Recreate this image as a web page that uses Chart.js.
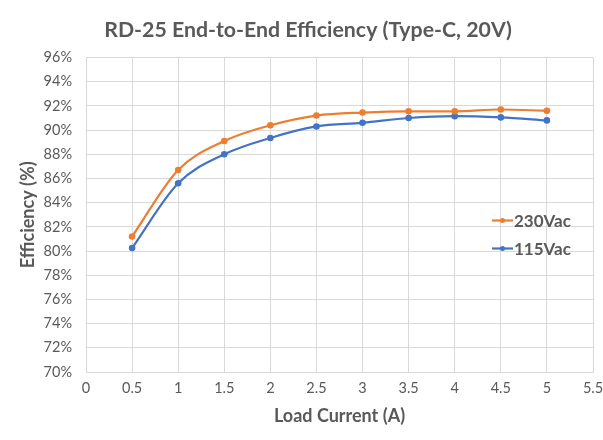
<!DOCTYPE html>
<html><head><meta charset="utf-8">
<script src="https://cdn.jsdelivr.net/npm/chart.js@4/dist/chart.umd.min.js"></script>
<style>html,body{margin:0;padding:0;background:#fff}#wrap{width:603px;height:440px}</style>
</head><body><div id="wrap"><canvas id="c" width="603" height="440"></canvas></div>
<script>
const loadCurrent = [0.5, 1, 1.5, 2, 2.5, 3, 3.5, 4, 4.5, 5];
const eff230 = [81.2, 86.7, 89.1, 90.4, 91.2, 91.45, 91.55, 91.55, 91.7, 91.6];
const eff115 = [80.25, 85.6, 88.0, 89.35, 90.3, 90.6, 91.0, 91.15, 91.05, 90.8];
const seriesNames = ['230Vac', '115Vac'];
const titleText = 'RD-25 End-to-End Efficiency (Type-C, 20V)';
const xTitle = 'Load Current (A)';
const yTitle = 'Efficiency (%)';

const FONT = 'Lato, "Open Sans", sans-serif';
const GREY = '#595959';
const colors = ['#ED7D31', '#4472C4'];

const titlePlugin = {
  id: 'offTitle',
  afterDraw(chart) {
    const ctx = chart.ctx;
    ctx.save();
    ctx.fillStyle = GREY; ctx.font = 'bold 21.3px ' + FONT;
    ctx.textAlign = 'center'; ctx.textBaseline = 'middle';
    ctx.fillText(titleText, 308, 30);
    ctx.restore();
  }
};

const legendPlugin = {
  id: 'inLegend',
  afterDraw(chart) {
    const ctx = chart.ctx, a = chart.chartArea;
    ctx.save();
    chart.data.datasets.forEach((ds, i) => {
      const y = a.top + 163 + i * 28;
      const x0 = a.left + 406;
      ctx.strokeStyle = ds.borderColor; ctx.lineWidth = 2.2;
      ctx.beginPath(); ctx.moveTo(x0, y); ctx.lineTo(x0 + 21, y); ctx.stroke();
      ctx.fillStyle = ds.borderColor;
      ctx.beginPath(); ctx.arc(x0 + 10.5, y, 2.5, 0, Math.PI * 2); ctx.fill();
      ctx.fillStyle = GREY; ctx.font = 'bold 17px ' + FONT;
      ctx.textBaseline = 'middle'; ctx.textAlign = 'left';
      ctx.fillText(ds.label, x0 + 22, y + 1);
    });
    ctx.restore();
  }
};

new Chart(document.getElementById('c'), {
  type: 'line',
  data: {
    datasets: [
      { label: seriesNames[0], data: loadCurrent.map((x, i) => ({x, y: eff230[i]})), borderColor: colors[0], backgroundColor: colors[0] },
      { label: seriesNames[1], data: loadCurrent.map((x, i) => ({x, y: eff115[i]})), borderColor: colors[1], backgroundColor: colors[1] }
    ]
  },
  options: {
    responsive: false, animation: false,
    layout: { padding: { left: 0, right: 10, top: 57.5, bottom: 0 } },
    elements: {
      line: { borderWidth: 2.2, tension: 0.35, cubicInterpolationMode: 'monotone' },
      point: { radius: 3.3, borderWidth: 0 }
    },
    plugins: {
      legend: { display: false },
      tooltip: { enabled: false },
      title: { display: false }
    },
    scales: {
      x: {
        type: 'linear', min: 0, max: 5.5,
        afterFit: s => { s.height = 68; s.paddingLeft = 0; s.paddingRight = 0; },
        grid: { color: '#D9D9D9', drawTicks: false, lineWidth: 1 },
        border: { color: '#D9D9D9' },
        ticks: { stepSize: 0.5, color: GREY, padding: 8, font: { family: FONT, size: 14.5 }, maxRotation: 0, autoSkip: false, callback: v => String(Math.round(v * 10) / 10) },
        title: { display: true, text: xTitle, color: GREY, font: { family: FONT, size: 18, weight: 'bold' }, padding: { top: 4, bottom: 13 } }
      },
      y: {
        min: 70, max: 96,
        afterFit: s => { s.width = 86; s.paddingTop = 0; s.paddingBottom = 0; },
        grid: { color: '#D9D9D9', drawTicks: false, lineWidth: 1 },
        border: { color: '#D9D9D9' },
        ticks: { stepSize: 2, color: GREY, padding: 14, font: { family: FONT, size: 14.5 }, callback: v => v + '%' },
        title: { display: true, text: yTitle, color: GREY, font: { family: FONT, size: 18, weight: 'bold' }, padding: { top: 17, bottom: 0 } }
      }
    }
  },
  plugins: [titlePlugin, legendPlugin]
});
</script></body></html>
